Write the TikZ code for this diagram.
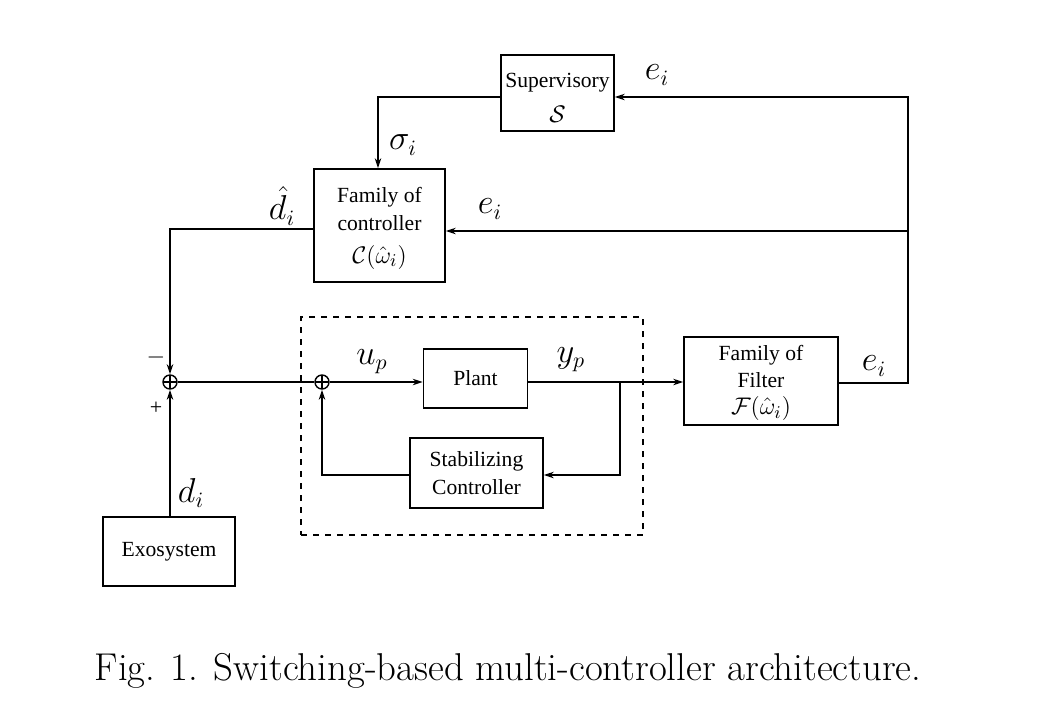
\documentclass[tikz,border=0pt]{standalone}
\usepackage{fontspec}
\newfontfamily\tnr{Liberation Serif}
\usetikzlibrary{arrows.meta,calc}
\newcommand{\bm}[1]{{\fontsize{12.2}{15}\selectfont$#1$}}
\begin{document}
\begin{tikzpicture}[x=0.5pt,y=-0.5pt,
  blk/.style={draw,line width=0.75pt,inner sep=0pt,align=center,font=\tnr\fontsize{10.8}{14}\selectfont},
  conn/.style={line width=0.75pt},
  arr/.style={conn,-{Stealth[length=5pt,width=3.2pt]}},
  lbl/.style={inner sep=0pt,font=\fontsize{16}{18}\selectfont},
  sumj/.style={draw,circle,line width=0.7pt,minimum size=7pt,inner sep=0pt,
    path picture={\draw[line width=0.6pt] (path picture bounding box.north) -- (path picture bounding box.south) (path picture bounding box.west) -- (path picture bounding box.east);}}]
\useasboundingbox (0,0) rectangle (1046,714);
% blocks
\node[blk,minimum width=56.5pt,minimum height=38pt] (sup) at (557.5,93) {};
\node[inner sep=0pt,align=center,font=\tnr\fontsize{10.8}{14}\selectfont] (supt) at (557.5,98) {Supervisory\\[3.5pt]\bm{\mathcal{S}}};
\node[blk,minimum width=65.5pt,minimum height=56.5pt] (ctrl) at (379.5,225.5) {};
\node[inner sep=0pt,align=center,font=\tnr\fontsize{10.8}{14}\selectfont] (ctrlt) at (379.5,228) {Family of\\controller\\[2.5pt]\bm{\mathcal{C}(\hat{\omega}_i)}};
\node[blk,minimum width=52pt,minimum height=29.5pt] (plant) at (475.5,378.5) {Plant};
\node[blk,minimum width=66.5pt,minimum height=35pt] (stab) at (476.5,473) {Stabilizing\\Controller};
\node[blk,minimum width=77pt,minimum height=44pt] (filt) at (761,381) {};
\node[inner sep=0pt,align=center,font=\tnr\fontsize{10.8}{13.5}\selectfont] (filtt) at (761,383) {Family of\\Filter\\\bm{\mathcal{F}(\hat{\omega}_i)}};
\node[blk,minimum width=66pt,minimum height=34.5pt] (exo) at (169,551.5) {Exosystem};
\node[draw,dashed,line width=0.6pt,minimum width=171pt,minimum height=109pt,inner sep=0pt] (dbox) at (472,426) {};
% summing junctions
\node[sumj] (s1) at (170,382) {};
\node[sumj] (s2) at (322,382) {};
% coordinates
\coordinate (br) at (620,382);
\coordinate (cb) at (620,475);
\coordinate (sb) at (322,475);
\coordinate (fo) at (908,383);
\coordinate (ft) at (908,97);
\coordinate (fm) at (908,231);
\coordinate (st) at (378,97);
\coordinate (cl) at (170,229);
% connectors
\draw[conn] (s1) -- (s2);
\draw[arr] (s2) -- (plant.west |- s2);
\draw[arr] (plant.east |- br) -- (filt.west |- br);
\draw[arr] (br) -- (cb) -- (stab.east |- cb);
\draw[arr] (stab.west |- sb) -- (sb) -- (s2);
\draw[arr] (filt.east |- fo) -- (fo) -- (ft) -- (sup.east |- ft);
\draw[arr] (fm) -- (ctrl.east |- fm);
\draw[arr] (sup.west |- st) -- (st) -- (st |- ctrl.north);
\draw[arr] (ctrl.west |- cl) -- (cl) -- (s1);
\draw[arr] (s1 |- exo.north) -- (s1);
% labels
\node[lbl] (l1) at (657,75) {$e_i$};
\node[lbl] (l2) at (403,145) {$\sigma_i$};
\node[lbl] (l3) at (282,206) {$\hat{d}_i$};
\node[lbl] (l4) at (490,209) {$e_i$};
\node[lbl] (l5) at (372,362) {$u_p$};
\node[lbl] (l6) at (571,360) {$y_p$};
\node[lbl] (l7) at (874,366) {$e_i$};
\node[lbl] (l8) at (191,493) {$d_i$};
\node[inner sep=0pt,font=\fontsize{12}{14}\selectfont] (mi) at (156,357) {$-$};
\node[inner sep=0pt,font=\tnr\fontsize{11}{12}\selectfont] (pl) at (156,408) {+};
% caption
\node[inner sep=0pt,font=\fontsize{19.4}{22}\selectfont] (cap) at (508,671) {Fig. 1. Switching-based multi-controller architecture.};
\end{tikzpicture}
\end{document}
